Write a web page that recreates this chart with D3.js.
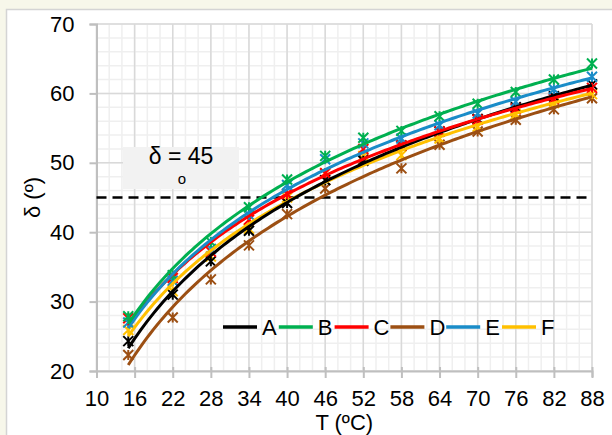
<!DOCTYPE html>
<html><head><meta charset="utf-8">
<script src="https://cdn.jsdelivr.net/npm/d3@7"></script>
<style>
html,body{margin:0;padding:0;background:#f7f7ea;}
svg{display:block;}
</style></head>
<body>
<svg id="chart" width="612" height="435"></svg>
<script>
// ---- data ----
const temps = [15, 22, 28, 34, 40, 46, 52, 58, 64, 70, 76, 82, 88];
const seriesNames = ["A", "B", "C", "D", "E", "F"];
const seriesA = [24.3, 31.0, 35.8, 40.2, 44.2, 47.5, 50.3, 52.5, 54.5, 56.3, 58.0, 59.6, 61.3];
const seriesB = [27.9, 33.8, 38.6, 43.6, 47.6, 51.0, 53.6, 54.6, 56.7, 58.5, 60.2, 62.0, 64.3];
const seriesC = [27.6, 33.4, 37.2, 41.8, 45.5, 48.5, 52.0, 52.5, 54.5, 56.2, 57.8, 59.2, 60.8];
const seriesD = [22.3, 27.7, 33.2, 38.1, 42.6, 46.3, 50.5, 49.2, 52.6, 54.5, 56.2, 57.7, 59.3];
const seriesE = [27.0, 33.0, 37.6, 42.5, 46.8, 50.5, 52.8, 53.5, 55.4, 57.1, 58.8, 60.6, 62.4];
const seriesF = [25.9, 31.5, 36.5, 40.5, 45.0, 48.5, 51.0, 51.1, 53.5, 55.2, 57.0, 58.6, 59.9];
const xTicks = [10, 16, 22, 28, 34, 40, 46, 52, 58, 64, 70, 76, 82, 88];
const yTicks = [20, 30, 40, 50, 60, 70];
const refValue = 45;
const refLabel = "δ = 45";
const xTitle = "T (ºC)";
const yTitle = "δ (º)";

const colors = ["#000000", "#00b050", "#ff0000", "#9c4f13", "#1a8cc8", "#ffc000"];
const allSeries = [seriesA, seriesB, seriesC, seriesD, seriesE, seriesF];

const svg = d3.select("#chart");
// panel
svg.append("rect").attr("x", 6.5).attr("y", 9.5).attr("width", 620).attr("height", 440)
  .attr("fill", "#ffffff").attr("stroke", "#d4d4d4").attr("stroke-width", 1.5);

const x = d3.scaleLinear().domain([10, 88]).range([96.5, 592]);
const y = d3.scaleLinear().domain([20, 70]).range([371, 24]);

const narrow = "'Liberation Sans Narrow', 'Arial Narrow', 'Liberation Sans', Arial, sans-serif";
const regular = "'Liberation Sans', Arial, sans-serif";

// minor grid
const g = svg.append("g");
g.selectAll("line.mx").data(d3.range(10, 88.1, 2)).join("line")
  .attr("x1", d => x(d)).attr("x2", d => x(d)).attr("y1", y(20)).attr("y2", y(70))
  .attr("stroke", "#efefef").attr("stroke-width", 1.5);
g.selectAll("line.my").data(d3.range(20, 70.1, 2)).join("line")
  .attr("y1", d => y(d)).attr("y2", d => y(d)).attr("x1", x(10)).attr("x2", x(88))
  .attr("stroke", "#efefef").attr("stroke-width", 1.5);
// major grid
g.selectAll("line.Mx").data(xTicks).join("line")
  .attr("x1", d => x(d)).attr("x2", d => x(d)).attr("y1", y(20)).attr("y2", y(70))
  .attr("stroke", "#d9d9d9").attr("stroke-width", 1.5);
g.selectAll("line.My").data(yTicks).join("line")
  .attr("y1", d => y(d)).attr("y2", d => y(d)).attr("x1", x(10)).attr("x2", x(88))
  .attr("stroke", "#d9d9d9").attr("stroke-width", 1.5);

// axes
const xAxis = svg.append("g").attr("transform", `translate(0,${y(20)})`)
  .call(d3.axisBottom(x).tickValues(xTicks).tickSize(6).tickFormat(d3.format("d")));
xAxis.select(".domain").attr("stroke", "#bfbfbf").attr("stroke-width", 2);
xAxis.selectAll(".tick line").attr("stroke", "#bfbfbf").attr("stroke-width", 2).attr("y1", -4).attr("y2", 7);
xAxis.selectAll("text").attr("font-family", narrow).attr("font-size", 22).attr("fill", "#000").attr("dy", "0.71em").attr("y", 19);

const yAxis = svg.append("g").attr("transform", `translate(${x(10)},0)`)
  .call(d3.axisLeft(y).tickValues(yTicks).tickSize(7).tickFormat(d3.format("d")));
yAxis.select(".domain").attr("stroke", "#bfbfbf").attr("stroke-width", 2);
yAxis.selectAll(".tick line").attr("stroke", "#bfbfbf").attr("stroke-width", 2);
yAxis.selectAll("text").attr("font-family", narrow).attr("font-size", 22).attr("fill", "#000").attr("x", -22);

// axis titles
svg.append("text").attr("x", (x(10) + x(88)) / 2).attr("y", 430).attr("text-anchor", "middle")
  .attr("font-family", regular).attr("font-size", 22).text(xTitle);
svg.append("text").attr("transform", `translate(40,${y(45)}) rotate(-90)`).attr("text-anchor", "middle")
  .attr("font-family", regular).attr("font-size", 22).text(yTitle);

// reference box
svg.append("rect").attr("x", 123).attr("y", 147).attr("width", 116).attr("height", 42).attr("fill", "#f2f2f2");
svg.append("text").attr("x", 181).attr("y", 164).attr("text-anchor", "middle")
  .attr("font-family", regular).attr("font-size", 23).text(refLabel);
svg.append("text").attr("x", 182).attr("y", 184).attr("text-anchor", "middle")
  .attr("font-family", regular).attr("font-size", 15).text("o");

// reference dashed line
svg.append("line").attr("x1", x(10)).attr("x2", x(88)).attr("y1", y(refValue)).attr("y2", y(refValue))
  .attr("stroke", "#000").attr("stroke-width", 2.5).attr("stroke-dasharray", "10,6");

// log trendlines fitted from data
function logFit(xs, ys) {
  const lx = xs.map(Math.log);
  const mx = d3.mean(lx), my = d3.mean(ys);
  let sxy = 0, sxx = 0;
  lx.forEach((v, i) => { sxy += (v - mx) * (ys[i] - my); sxx += (v - mx) * (v - mx); });
  const b = sxy / sxx, a = my - b * mx;
  return t => a + b * Math.log(t);
}
const star = s => `M${-s},${-s}L${s},${s}M${-s},${s}L${s},${-s}M0,${-s}L0,${s}`;
const tSamples = d3.range(temps[0], temps[temps.length - 1] + 0.01, 0.5);
const line = d3.line().x(d => x(d[0])).y(d => y(d[1]));

const drawOrder = [3, 5, 0, 2, 4, 1];
drawOrder.forEach(i => {
  const vals = allSeries[i];
  svg.append("g").selectAll("path").data(temps).join("path")
    .attr("transform", (t, k) => `translate(${x(t)},${y(vals[k])})`)
    .attr("d", star(5)).attr("stroke", colors[i]).attr("stroke-width", 2).attr("fill", "none");
});
drawOrder.forEach(i => {
  const f = logFit(temps, allSeries[i]);
  svg.append("path").datum(tSamples.map(t => [t, f(t)])).attr("d", line)
    .attr("fill", "none").attr("stroke", colors[i]).attr("stroke-width", 3);
});

// legend
const leg = svg.append("g").attr("transform", "translate(223,327)");
seriesNames.forEach((n, i) => {
  const gx = i * 55.8;
  leg.append("line").attr("x1", gx).attr("x2", gx + 34).attr("y1", 0).attr("y2", 0)
    .attr("stroke", colors[i]).attr("stroke-width", 3.5);
  leg.append("text").attr("x", gx + 39).attr("y", 8).attr("font-family", narrow).attr("font-size", 22).text(n);
});
</script>
</body></html>
